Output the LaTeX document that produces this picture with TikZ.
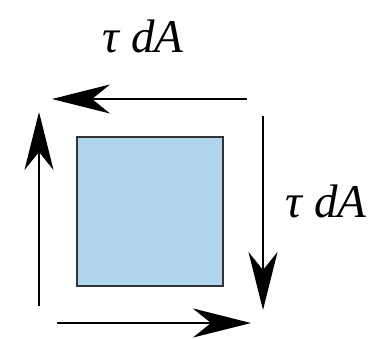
\documentclass[tikz,border=0pt]{standalone}
\usepackage{fontspec}
\newfontfamily\lblfont{Liberation Serif}
\usetikzlibrary{arrows.meta}
\begin{document}
\begin{tikzpicture}[x=1pt,y=-1pt,
  shear/.style={line width=1.3pt,-{Stealth[length=58pt,width=29pt,inset=18pt]}},
  lbl/.style={font=\lblfont\itshape\fontsize{47}{52}\selectfont}]
\useasboundingbox (0,0) rectangle (375,338);
\node[draw=black!80,line width=1.2pt,fill={rgb,255:red,174;green,212;blue,238},minimum width=146pt,minimum height=149pt,inner sep=0pt] (sq) at (150,211.5) {};
\coordinate (t1) at (247,99); \coordinate (t2) at (52,99);
\coordinate (r1) at (263,116); \coordinate (r2) at (263,310);
\coordinate (b1) at (57,323); \coordinate (b2) at (251,323);
\coordinate (l1) at (39,306); \coordinate (l2) at (39,112);
\draw[shear] (t1) -- (t2);
\draw[shear] (r1) -- (r2);
\draw[shear] (b1) -- (b2);
\draw[shear] (l1) -- (l2);
\node[lbl] (top) at (143,36) {τ dA};
\node[lbl] (right) at (326,201) {τ dA};
\end{tikzpicture}
\end{document}
